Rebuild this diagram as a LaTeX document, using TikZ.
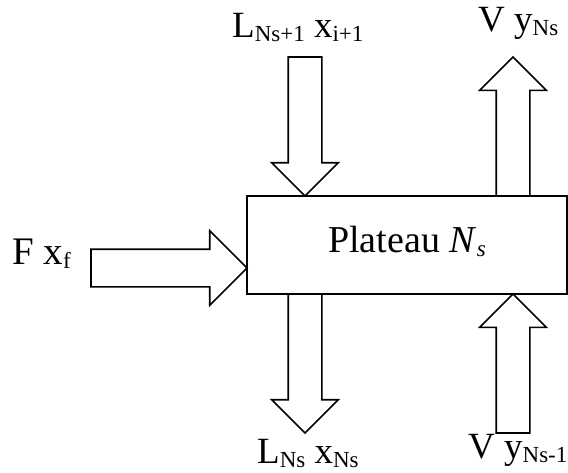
\documentclass[tikz,border=0pt]{standalone}
\usepackage{fontspec}
\setmainfont{Liberation Serif}
\usetikzlibrary{shapes.arrows,positioning}

\newcommand\lo[1]{\raisebox{-4pt}{\fontsize{23}{23}\selectfont #1}}

\tikzset{
  flow/.style={single arrow, draw, line width=1.6pt, fill=white,
    inner xsep=0pt, inner ysep=16pt, outer sep=0pt,
    text height=0pt, text depth=0pt,
    single arrow head extend=16.5pt, single arrow tip angle=90,
    minimum height=139pt},
  lbl/.style={inner sep=0pt, anchor=base west, font=\fontsize{37}{40}\selectfont}
}

\begin{document}
\begin{tikzpicture}[x=1pt,y=-1pt]
\useasboundingbox (0,0) rectangle (568,472);

% plateau
\node[draw, line width=1.6pt, minimum width=320pt, minimum height=98pt,
  inner sep=0pt, outer sep=0pt, anchor=north west] (plate) at (247,196) {};
\node[inner sep=0pt, anchor=base, font=\fontsize{38}{40}\selectfont]
  (ptxt) at ([yshift=-7pt]plate.center) {Plateau \textit{N}\lo{\textit{s}}};

% flows
\node[flow, rotate=-90, anchor=tip] (lin) at ([xshift=58pt]plate.north west) {};
\node[flow, rotate=90, anchor=tail] (vout) at ([xshift=266pt]plate.north west) {};
\node[flow, rotate=-90, anchor=tail] (lout) at ([xshift=58pt]plate.south west) {};
\node[flow, rotate=90, anchor=tip] (vin) at ([xshift=266pt]plate.south west) {};
\node[flow, inner ysep=18pt, single arrow head extend=18.5pt, minimum height=156pt,
  anchor=tip] (fin) at ([yshift=-23pt]plate.west) {};

% labels
\node[lbl] (lintxt) at (232,37) {L\lo{Ns+1}\ x\lo{i+1}};
\node[lbl] (vouttxt) at (478,31) {V\ y\lo{Ns}};
\node[lbl] (louttxt) at (257,463) {L\lo{Ns}\ x\lo{Ns}};
\node[lbl] (vintxt) at (468,458) {V\ y\lo{Ns-1}};
\node[lbl, font=\fontsize{39}{40}\selectfont] (fintxt) at (12,264) {F\ x\lo{f}};
\end{tikzpicture}
\end{document}
